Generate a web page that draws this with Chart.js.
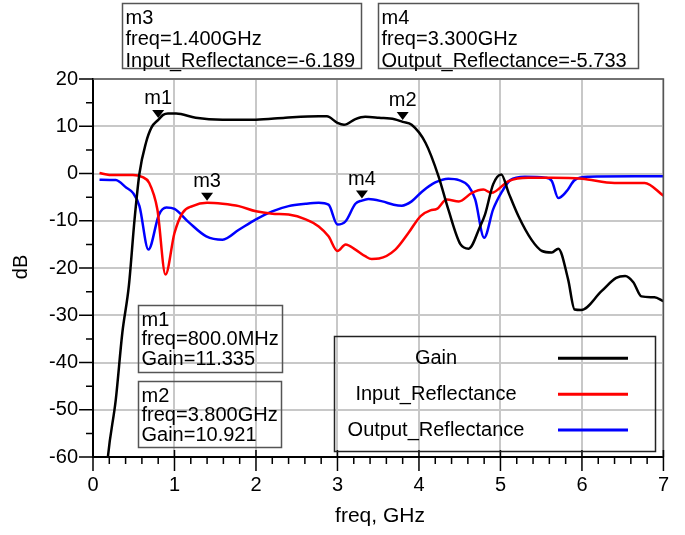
<!DOCTYPE html>
<html>
<head>
<meta charset="utf-8">
<script src="https://cdn.jsdelivr.net/npm/chart.js@4"></script>
<style>
    body { margin: 0; background: #fff; }
    #wrap { width: 685px; height: 535px; position: relative; }
</style>
</head>
<body>
<div id="wrap"><canvas id="sparamChart" width="685" height="535"></canvas></div>
<script>
// Series data (freq in GHz, values in dB)
const gainFreq = [0.12, 0.18, 0.28, 0.36, 0.44, 0.51, 0.57, 0.65, 0.72, 0.8, 0.86, 0.92, 1.02, 1.26, 1.59, 2.0, 2.36, 2.77, 2.87, 3.0, 3.08, 3.22, 3.34, 3.51, 3.7, 3.8, 3.91, 4.08, 4.24, 4.36, 4.51, 4.61, 4.75, 4.81, 4.91, 5.01, 5.1, 5.22, 5.38, 5.51, 5.63, 5.71, 5.83, 5.91, 5.99, 6.24, 6.42, 6.53, 6.63, 6.73, 6.89, 7.0];
const gainDb = [-75, -60.5, -47.8, -33.7, -23.8, -9.7, 0, 6.5, 9.8, 11.335, 12.4, 12.7, 12.7, 11.8, 11.4, 11.4, 11.8, 12.1, 12.1, 10.7, 10.3, 11.5, 12.0, 11.8, 11.5, 10.921, 10.3, 6.5, -0.6, -7.6, -15.0, -15.9, -11.2, -8.7, -2.3, -0.2, -4.1, -9.0, -14.0, -16.4, -16.7, -15.9, -22.4, -28.8, -28.9, -24.9, -22.1, -21.7, -23.0, -26.0, -26.2, -27.0];

const inputFreq = [0.08, 0.2, 0.49, 0.6, 0.69, 0.79, 0.89, 1.0, 1.1, 1.22, 1.4, 1.59, 1.79, 2.0, 2.2, 2.4, 2.61, 2.77, 2.89, 3.0, 3.1, 3.22, 3.34, 3.42, 3.51, 3.71, 3.87, 4.02, 4.14, 4.22, 4.34, 4.49, 4.65, 4.79, 4.89, 5.1, 5.34, 5.63, 6.0, 6.4, 6.77, 7.0];
const inputDb = [0.1, -0.3, -0.3, -0.7, -2.0, -7.6, -21.4, -12.6, -8.3, -6.9, -6.189, -6.4, -6.9, -8.0, -8.5, -8.7, -9.7, -11.2, -13.3, -16.4, -15.0, -16.1, -17.5, -18.1, -18.0, -16.1, -12.6, -9.0, -7.8, -7.5, -5.5, -5.9, -4.1, -3.4, -4.1, -1.6, -0.9, -0.9, -1.1, -2.0, -2.0, -4.7];

const outputFreq = [0.08, 0.28, 0.41, 0.49, 0.57, 0.68, 0.81, 0.9, 1.0, 1.18, 1.39, 1.59, 1.79, 2.0, 2.2, 2.4, 2.61, 2.77, 2.89, 3.0, 3.1, 3.22, 3.3, 3.38, 3.55, 3.69, 3.79, 3.91, 4.04, 4.2, 4.36, 4.49, 4.61, 4.69, 4.8, 4.91, 5.02, 5.12, 5.3, 5.55, 5.63, 5.71, 5.81, 5.91, 6.08, 6.65, 7.0];
const outputDb = [-1.3, -1.4, -3.0, -4.1, -6.9, -16.1, -8.7, -7.2, -7.5, -10.4, -13.3, -14.0, -11.9, -9.7, -8.0, -6.9, -6.4, -6.2, -6.6, -10.8, -10.1, -6.4, -5.733, -5.4, -5.9, -6.6, -6.8, -5.9, -3.8, -1.9, -1.1, -1.4, -2.7, -5.5, -13.6, -7.6, -3.8, -1.4, -0.7, -0.9, -1.6, -5.2, -3.8, -1.4, -0.7, -0.6, -0.6];

const seriesNames = ['Gain', 'Input_Reflectance', 'Output_Reflectance'];
const seriesColors = ['#000000', '#ff0000', '#0000ff'];

// Markers
const markerNames = ['m1', 'm2', 'm3', 'm4'];
const markerFreq = [0.8, 3.8, 1.4, 3.3];
const markerValue = [11.335, 10.921, -6.189, -5.733];
const markerBoxText = [
    ['m1', 'freq=800.0MHz', 'Gain=11.335'],
    ['m2', 'freq=3.800GHz', 'Gain=10.921'],
    ['m3', 'freq=1.400GHz', 'Input_Reflectance=-6.189'],
    ['m4', 'freq=3.300GHz', 'Output_Reflectance=-5.733']
];

const xTicks = [0, 1, 2, 3, 4, 5, 6, 7];
const yTicks = [-60, -50, -40, -30, -20, -10, 0, 10, 20];

const FONT = '"Liberation Sans", Arial, sans-serif';

function toPoints(freq, vals) {
    return freq.map((f, i) => ({ x: f, y: vals[i] }));
}

const decorPlugin = {
    id: 'adsDecor',
    afterDraw(chart) {
        const ctx = chart.ctx;
        const area = chart.chartArea;
        const xs = chart.scales.x;
        const ys = chart.scales.y;
        ctx.save();

        // top / right frame
        ctx.strokeStyle = '#555';
        ctx.lineWidth = 1.5;
        ctx.beginPath();
        ctx.moveTo(area.left, area.top);
        ctx.lineTo(area.right, area.top);
        ctx.lineTo(area.right, area.bottom);
        ctx.stroke();

        // tick marks
        ctx.strokeStyle = '#000';
        ctx.lineWidth = 1.5;
        ctx.beginPath();
        for (let i = 0; i <= 35; i++) {
            const px = xs.getPixelForValue(i / 5);
            if (i % 5 === 0) {
                ctx.moveTo(px, area.bottom - 7);
                ctx.lineTo(px, area.bottom + 14);
            } else {
                ctx.moveTo(px, area.bottom);
                ctx.lineTo(px, area.bottom + 7);
            }
        }
        for (let v = -60; v <= 20; v += 5) {
            const py = ys.getPixelForValue(v);
            if (v % 10 === 0) {
                ctx.moveTo(area.left - 14, py);
                ctx.lineTo(area.left, py);
            } else {
                ctx.moveTo(area.left - 7, py);
                ctx.lineTo(area.left, py);
            }
        }
        ctx.stroke();

        // axis titles
        ctx.fillStyle = '#000';
        ctx.font = '21px ' + FONT;
        ctx.textAlign = 'center';
        ctx.textBaseline = 'middle';
        ctx.fillText('freq, GHz', 380, 516);
        ctx.save();
        ctx.translate(21, 267);
        ctx.rotate(-Math.PI / 2);
        ctx.font = '20px ' + FONT;
        ctx.fillText('dB', 0, 0);
        ctx.restore();

        // marker triangles + labels
        ctx.font = '20px ' + FONT;
        markerNames.forEach((name, i) => {
            const px = xs.getPixelForValue(markerFreq[i]);
            const py = ys.getPixelForValue(markerValue[i]);
            ctx.beginPath();
            ctx.moveTo(px, py - 2);
            ctx.lineTo(px - 6, py - 10);
            ctx.lineTo(px + 6, py - 10);
            ctx.closePath();
            ctx.fill();
            ctx.fillText(name, px, py - 21);
        });

        // marker readout boxes
        const boxes = [
            { x: 138.5, y: 305.5, w: 144, h: 67, gap: 19.7 },
            { x: 138.5, y: 381.5, w: 143, h: 66, gap: 19.5 },
            { x: 122.5, y: 3.5, w: 239, h: 65, gap: 21.5 },
            { x: 378.5, y: 3.5, w: 260, h: 65, gap: 21.5 }
        ];
        ctx.textAlign = 'left';
        boxes.forEach((b, i) => {
            ctx.strokeStyle = '#555';
            ctx.lineWidth = 1.5;
            ctx.strokeRect(b.x, b.y, b.w, b.h);
            markerBoxText[i].forEach((line, j) => {
                ctx.fillText(line, b.x + 3, b.y + 14.5 + j * b.gap);
            });
        });

        // legend
        ctx.strokeStyle = '#222';
        ctx.lineWidth = 1.5;
        ctx.strokeRect(334.5, 336.5, 321, 115);
        ctx.textAlign = 'center';
        const rowY = [358.3, 394.3, 430];
        seriesNames.forEach((name, i) => {
            ctx.fillStyle = '#000';
            ctx.fillText(name, 436, rowY[i]);
            ctx.strokeStyle = seriesColors[i];
            ctx.lineWidth = 3;
            ctx.beginPath();
            ctx.moveTo(558, rowY[i]);
            ctx.lineTo(628, rowY[i]);
            ctx.stroke();
        });

        ctx.restore();
    }
};

function buildDataset(i, freq, vals) {
    return {
        label: seriesNames[i],
        data: toPoints(freq, vals),
        borderColor: seriesColors[i],
        backgroundColor: seriesColors[i],
        borderWidth: 2.5,
        pointRadius: 0,
        cubicInterpolationMode: 'monotone',
        fill: false
    };
}

const ctx = document.getElementById('sparamChart').getContext('2d');
new Chart(ctx, {
    type: 'line',
    data: {
        datasets: [
            buildDataset(0, gainFreq, gainDb),
            buildDataset(1, inputFreq, inputDb),
            buildDataset(2, outputFreq, outputDb)
        ]
    },
    options: {
        responsive: false,
        animation: false,
        layout: { padding: { left: 0, right: 19, top: 79, bottom: 0 } },
        plugins: {
            legend: { display: false },
            tooltip: { enabled: false }
        },
        scales: {
            x: {
                type: 'linear',
                min: 0,
                max: 7,
                afterFit: s => { s.height = 78; },
                afterBuildTicks: s => { s.ticks = xTicks.map(v => ({ value: v })); },
                grid: { color: '#c8c8c8', lineWidth: 2, drawTicks: false },
                border: { color: '#000', width: 2 },
                ticks: { color: '#000', padding: 16, maxRotation: 0, font: { family: FONT, size: 20 } }
            },
            y: {
                min: -60,
                max: 20,
                afterFit: s => { s.width = 93; },
                afterBuildTicks: s => { s.ticks = yTicks.map(v => ({ value: v })); },
                grid: { color: '#c8c8c8', lineWidth: 2, drawTicks: false },
                border: { color: '#000', width: 2 },
                ticks: { color: '#000', padding: 15, font: { family: FONT, size: 20 } }
            }
        }
    },
    plugins: [decorPlugin]
});
</script>
</body>
</html>
